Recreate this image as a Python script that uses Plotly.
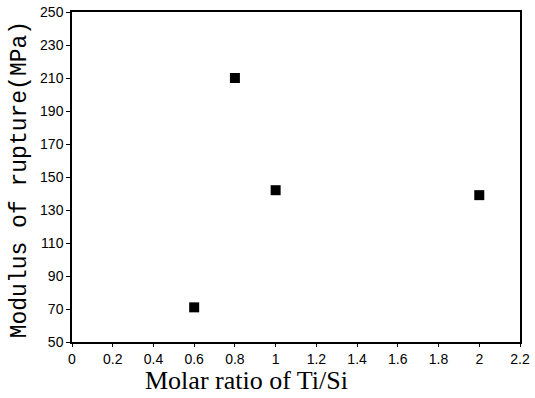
import plotly.graph_objects as go

molar_ratio = [0.6, 0.8, 1.0, 2.0]
modulus_mpa = [71, 210, 142, 139]
x_tick_vals = [0, 0.2, 0.4, 0.6, 0.8, 1.0, 1.2, 1.4, 1.6, 1.8, 2.0, 2.2]
x_tick_text = ["0", "0.2", "0.4", "0.6", "0.8", "1", "1.2", "1.4", "1.6", "1.8", "2", "2.2"]
y_tick_vals = [50, 70, 90, 110, 130, 150, 170, 190, 210, 230, 250]

fig = go.Figure()
fig.add_trace(go.Scatter(
    x=molar_ratio, y=modulus_mpa, mode="markers",
    marker=dict(symbol="square", size=10, color="black"),
    showlegend=False, cliponaxis=False,
))

fig.update_layout(
    width=535, height=398,
    margin=dict(l=72, r=15, t=12, b=56),
    paper_bgcolor="white", plot_bgcolor="white",
    font=dict(family="Liberation Sans, Arial, sans-serif", color="black", size=14),
    xaxis=dict(
        range=[0, 2.2], tickvals=x_tick_vals, ticktext=x_tick_text, automargin=False,
        showline=True, linecolor="black", linewidth=1.5, mirror=True,
        ticks="outside", ticklen=3, tickcolor="black", showgrid=False, zeroline=False,
    ),
    yaxis=dict(
        range=[50, 250], tickvals=y_tick_vals, automargin=False,
        showline=True, linecolor="black", linewidth=1.5, mirror=True,
        ticks="outside", ticklen=4, tickcolor="black", showgrid=False, zeroline=False,
    ),
    annotations=[
        dict(text="Molar ratio of Ti/Si", xref="paper", yref="paper", x=0.39, y=-0.118,
             xanchor="center", yanchor="middle", showarrow=False,
             font=dict(family="Liberation Serif, Times New Roman, serif", size=26)),
        dict(text="Modulus of rupture(MPa)", xref="paper", yref="paper", x=-0.116, y=0.49,
             xanchor="center", yanchor="middle", showarrow=False, textangle=-90,
             font=dict(family="Liberation Mono, Courier New, monospace", size=23)),
    ],
)

fig.write_html("out.html", config={"displayModeBar": False},
               post_script="document.body.style.margin='0';")
